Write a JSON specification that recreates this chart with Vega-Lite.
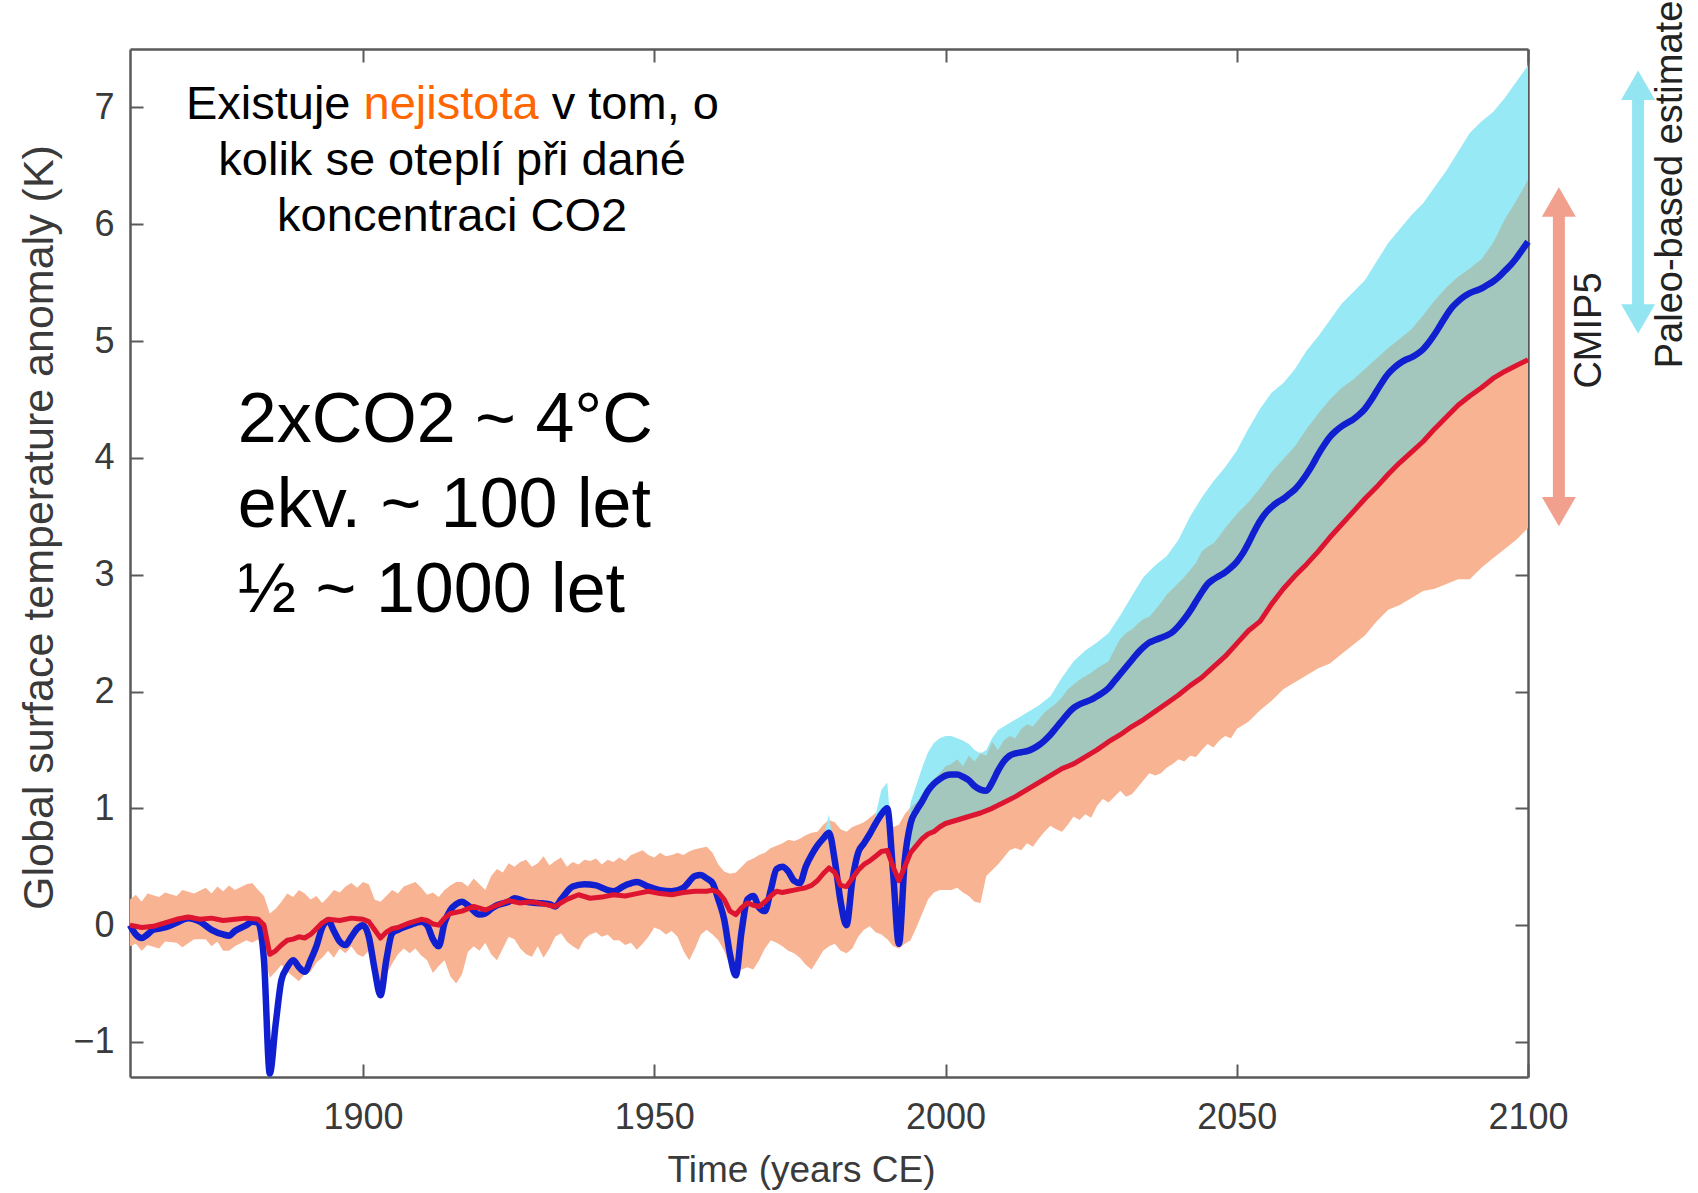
{
  "$schema": "https://vega.github.io/schema/vega-lite/v6.json",
  "width": 1398,
  "height": 1028,
  "autosize": {"type": "none"},
  "padding": {"left": 130, "top": 49, "right": 170, "bottom": 116},
  "background": "white",
  "config": {
    "view": {"stroke": null},
    "axis": {
      "grid": false,
      "domainColor": "#5a5a5a",
      "domainWidth": 2.5,
      "tickColor": "#5a5a5a",
      "tickWidth": 2,
      "tickSize": -13,
      "labelFont": "Liberation Sans",
      "labelFontSize": 36,
      "labelColor": "#3a3a3a",
      "labelFlush": false,
      "labelOverlap": false,
      "titleFont": "Liberation Sans",
      "titleFontWeight": "normal",
      "titleColor": "#3a3a3a"
    }
  },
  "datasets": {
    "cmip_band": [
      {"year": 1860, "lo": -0.18, "hi": 0.22}, {"year": 1861, "lo": -0.16, "hi": 0.26}, {"year": 1862, "lo": -0.22, "hi": 0.2},
      {"year": 1863, "lo": -0.17, "hi": 0.27}, {"year": 1865, "lo": -0.2, "hi": 0.24}, {"year": 1866, "lo": -0.14, "hi": 0.28},
      {"year": 1868, "lo": -0.15, "hi": 0.25}, {"year": 1869, "lo": -0.19, "hi": 0.3}, {"year": 1871, "lo": -0.12, "hi": 0.27},
      {"year": 1873, "lo": -0.12, "hi": 0.32}, {"year": 1874, "lo": -0.18, "hi": 0.27}, {"year": 1875, "lo": -0.14, "hi": 0.33},
      {"year": 1876, "lo": -0.22, "hi": 0.29}, {"year": 1877, "lo": -0.22, "hi": 0.34}, {"year": 1878, "lo": -0.18, "hi": 0.3},
      {"year": 1880, "lo": -0.13, "hi": 0.35}, {"year": 1881, "lo": -0.15, "hi": 0.36}, {"year": 1882, "lo": -0.12, "hi": 0.3},
      {"year": 1883, "lo": -0.25, "hi": 0.25}, {"year": 1884, "lo": -0.45, "hi": 0.1}, {"year": 1885, "lo": -0.4, "hi": 0.14},
      {"year": 1886, "lo": -0.34, "hi": 0.2}, {"year": 1887, "lo": -0.4, "hi": 0.27}, {"year": 1888, "lo": -0.44, "hi": 0.24},
      {"year": 1889, "lo": -0.48, "hi": 0.3}, {"year": 1890, "lo": -0.42, "hi": 0.27}, {"year": 1891, "lo": -0.4, "hi": 0.22},
      {"year": 1892, "lo": -0.32, "hi": 0.25}, {"year": 1893, "lo": -0.28, "hi": 0.19}, {"year": 1894, "lo": -0.22, "hi": 0.24},
      {"year": 1895, "lo": -0.28, "hi": 0.3}, {"year": 1896, "lo": -0.2, "hi": 0.28}, {"year": 1897, "lo": -0.24, "hi": 0.33},
      {"year": 1898, "lo": -0.18, "hi": 0.36}, {"year": 1899, "lo": -0.25, "hi": 0.32}, {"year": 1900, "lo": -0.27, "hi": 0.37},
      {"year": 1901, "lo": -0.22, "hi": 0.35}, {"year": 1902, "lo": -0.35, "hi": 0.22}, {"year": 1903, "lo": -0.55, "hi": 0.2},
      {"year": 1904, "lo": -0.42, "hi": 0.25}, {"year": 1905, "lo": -0.33, "hi": 0.3}, {"year": 1906, "lo": -0.25, "hi": 0.27},
      {"year": 1907, "lo": -0.2, "hi": 0.33}, {"year": 1908, "lo": -0.24, "hi": 0.35}, {"year": 1909, "lo": -0.2, "hi": 0.37},
      {"year": 1910, "lo": -0.26, "hi": 0.32}, {"year": 1911, "lo": -0.3, "hi": 0.26}, {"year": 1912, "lo": -0.41, "hi": 0.28},
      {"year": 1913, "lo": -0.35, "hi": 0.24}, {"year": 1914, "lo": -0.3, "hi": 0.3}, {"year": 1915, "lo": -0.44, "hi": 0.34},
      {"year": 1916, "lo": -0.5, "hi": 0.37}, {"year": 1917, "lo": -0.42, "hi": 0.37}, {"year": 1918, "lo": -0.23, "hi": 0.33},
      {"year": 1919, "lo": -0.18, "hi": 0.4}, {"year": 1920, "lo": -0.22, "hi": 0.35}, {"year": 1921, "lo": -0.15, "hi": 0.3},
      {"year": 1922, "lo": -0.25, "hi": 0.42}, {"year": 1923, "lo": -0.3, "hi": 0.48}, {"year": 1924, "lo": -0.2, "hi": 0.45},
      {"year": 1925, "lo": -0.1, "hi": 0.53}, {"year": 1926, "lo": -0.12, "hi": 0.5}, {"year": 1927, "lo": -0.2, "hi": 0.54},
      {"year": 1928, "lo": -0.25, "hi": 0.56}, {"year": 1929, "lo": -0.27, "hi": 0.5}, {"year": 1930, "lo": -0.18, "hi": 0.53},
      {"year": 1931, "lo": -0.28, "hi": 0.59}, {"year": 1932, "lo": -0.2, "hi": 0.51}, {"year": 1933, "lo": -0.1, "hi": 0.55},
      {"year": 1934, "lo": -0.07, "hi": 0.58}, {"year": 1935, "lo": -0.14, "hi": 0.5}, {"year": 1936, "lo": -0.18, "hi": 0.54},
      {"year": 1937, "lo": -0.21, "hi": 0.52}, {"year": 1938, "lo": -0.12, "hi": 0.56}, {"year": 1939, "lo": -0.08, "hi": 0.55},
      {"year": 1940, "lo": -0.06, "hi": 0.57}, {"year": 1941, "lo": -0.1, "hi": 0.52}, {"year": 1942, "lo": -0.08, "hi": 0.56},
      {"year": 1943, "lo": -0.13, "hi": 0.54}, {"year": 1944, "lo": -0.13, "hi": 0.58}, {"year": 1945, "lo": -0.17, "hi": 0.55},
      {"year": 1946, "lo": -0.15, "hi": 0.6}, {"year": 1947, "lo": -0.21, "hi": 0.62}, {"year": 1948, "lo": -0.16, "hi": 0.64},
      {"year": 1949, "lo": -0.1, "hi": 0.6}, {"year": 1950, "lo": -0.02, "hi": 0.58}, {"year": 1951, "lo": -0.04, "hi": 0.62},
      {"year": 1952, "lo": -0.08, "hi": 0.59}, {"year": 1953, "lo": -0.05, "hi": 0.6}, {"year": 1954, "lo": -0.1, "hi": 0.62},
      {"year": 1955, "lo": -0.22, "hi": 0.6}, {"year": 1956, "lo": -0.3, "hi": 0.63}, {"year": 1957, "lo": -0.2, "hi": 0.65},
      {"year": 1958, "lo": -0.08, "hi": 0.66}, {"year": 1959, "lo": -0.04, "hi": 0.67}, {"year": 1960, "lo": -0.08, "hi": 0.62},
      {"year": 1961, "lo": -0.13, "hi": 0.52}, {"year": 1962, "lo": -0.22, "hi": 0.46}, {"year": 1963, "lo": -0.35, "hi": 0.44},
      {"year": 1964, "lo": -0.41, "hi": 0.45}, {"year": 1965, "lo": -0.38, "hi": 0.5}, {"year": 1966, "lo": -0.36, "hi": 0.55},
      {"year": 1967, "lo": -0.38, "hi": 0.57}, {"year": 1968, "lo": -0.3, "hi": 0.6}, {"year": 1969, "lo": -0.2, "hi": 0.62},
      {"year": 1970, "lo": -0.13, "hi": 0.66}, {"year": 1971, "lo": -0.15, "hi": 0.68}, {"year": 1972, "lo": -0.18, "hi": 0.7},
      {"year": 1973, "lo": -0.22, "hi": 0.73}, {"year": 1974, "lo": -0.24, "hi": 0.72}, {"year": 1975, "lo": -0.28, "hi": 0.74},
      {"year": 1976, "lo": -0.34, "hi": 0.77}, {"year": 1977, "lo": -0.38, "hi": 0.79}, {"year": 1978, "lo": -0.3, "hi": 0.8},
      {"year": 1979, "lo": -0.22, "hi": 0.86}, {"year": 1980, "lo": -0.18, "hi": 0.9}, {"year": 1981, "lo": -0.16, "hi": 0.88},
      {"year": 1982, "lo": -0.22, "hi": 0.82}, {"year": 1983, "lo": -0.24, "hi": 0.8}, {"year": 1984, "lo": -0.2, "hi": 0.84},
      {"year": 1985, "lo": -0.1, "hi": 0.86}, {"year": 1986, "lo": -0.04, "hi": 0.88}, {"year": 1987, "lo": -0.01, "hi": 0.92},
      {"year": 1988, "lo": -0.06, "hi": 0.96}, {"year": 1989, "lo": -0.08, "hi": 1.01}, {"year": 1990, "lo": -0.12, "hi": 0.92},
      {"year": 1991, "lo": -0.18, "hi": 0.84}, {"year": 1992, "lo": -0.2, "hi": 0.86}, {"year": 1993, "lo": -0.16, "hi": 0.95},
      {"year": 1994, "lo": -0.13, "hi": 1.01}, {"year": 1995, "lo": -0.02, "hi": 1.05}, {"year": 1996, "lo": 0.1, "hi": 1.12},
      {"year": 1997, "lo": 0.22, "hi": 1.2}, {"year": 1998, "lo": 0.28, "hi": 1.25}, {"year": 1999, "lo": 0.3, "hi": 1.3},
      {"year": 2000, "lo": 0.3, "hi": 1.36}, {"year": 2001, "lo": 0.3, "hi": 1.38}, {"year": 2002, "lo": 0.32, "hi": 1.42},
      {"year": 2003, "lo": 0.28, "hi": 1.36}, {"year": 2004, "lo": 0.25, "hi": 1.45}, {"year": 2005, "lo": 0.2, "hi": 1.4},
      {"year": 2006, "lo": 0.19, "hi": 1.48}, {"year": 2007, "lo": 0.42, "hi": 1.45}, {"year": 2008, "lo": 0.47, "hi": 1.57},
      {"year": 2009, "lo": 0.52, "hi": 1.5}, {"year": 2010, "lo": 0.58, "hi": 1.58}, {"year": 2011, "lo": 0.64, "hi": 1.62},
      {"year": 2012, "lo": 0.66, "hi": 1.6}, {"year": 2013, "lo": 0.64, "hi": 1.68}, {"year": 2014, "lo": 0.7, "hi": 1.72},
      {"year": 2015, "lo": 0.67, "hi": 1.7}, {"year": 2016, "lo": 0.74, "hi": 1.76}, {"year": 2017, "lo": 0.8, "hi": 1.82},
      {"year": 2018, "lo": 0.85, "hi": 1.86}, {"year": 2019, "lo": 0.82, "hi": 1.9}, {"year": 2020, "lo": 0.8, "hi": 1.95},
      {"year": 2021, "lo": 0.86, "hi": 2.02}, {"year": 2022, "lo": 0.93, "hi": 2.06}, {"year": 2023, "lo": 0.9, "hi": 2.1},
      {"year": 2024, "lo": 0.95, "hi": 2.13}, {"year": 2025, "lo": 0.92, "hi": 2.16}, {"year": 2026, "lo": 1.02, "hi": 2.2},
      {"year": 2027, "lo": 1.08, "hi": 2.23}, {"year": 2028, "lo": 1.05, "hi": 2.26}, {"year": 2029, "lo": 1.1, "hi": 2.36},
      {"year": 2030, "lo": 1.15, "hi": 2.45}, {"year": 2031, "lo": 1.1, "hi": 2.5}, {"year": 2032, "lo": 1.12, "hi": 2.53},
      {"year": 2033, "lo": 1.18, "hi": 2.58}, {"year": 2034, "lo": 1.24, "hi": 2.62}, {"year": 2035, "lo": 1.3, "hi": 2.64},
      {"year": 2036, "lo": 1.28, "hi": 2.7}, {"year": 2037, "lo": 1.3, "hi": 2.76}, {"year": 2038, "lo": 1.35, "hi": 2.83},
      {"year": 2039, "lo": 1.38, "hi": 2.88}, {"year": 2040, "lo": 1.42, "hi": 2.93}, {"year": 2041, "lo": 1.4, "hi": 2.98},
      {"year": 2042, "lo": 1.45, "hi": 3.04}, {"year": 2043, "lo": 1.44, "hi": 3.1}, {"year": 2044, "lo": 1.5, "hi": 3.2},
      {"year": 2045, "lo": 1.55, "hi": 3.24}, {"year": 2046, "lo": 1.52, "hi": 3.27}, {"year": 2047, "lo": 1.58, "hi": 3.33},
      {"year": 2048, "lo": 1.62, "hi": 3.4}, {"year": 2049, "lo": 1.6, "hi": 3.46}, {"year": 2050, "lo": 1.68, "hi": 3.52},
      {"year": 2052, "lo": 1.74, "hi": 3.62}, {"year": 2054, "lo": 1.84, "hi": 3.74}, {"year": 2056, "lo": 1.92, "hi": 3.88},
      {"year": 2058, "lo": 2.02, "hi": 3.99}, {"year": 2060, "lo": 2.08, "hi": 4.1}, {"year": 2062, "lo": 2.14, "hi": 4.25},
      {"year": 2064, "lo": 2.2, "hi": 4.38}, {"year": 2066, "lo": 2.24, "hi": 4.5}, {"year": 2068, "lo": 2.32, "hi": 4.6},
      {"year": 2070, "lo": 2.4, "hi": 4.67}, {"year": 2072, "lo": 2.48, "hi": 4.76}, {"year": 2074, "lo": 2.6, "hi": 4.85},
      {"year": 2076, "lo": 2.7, "hi": 4.94}, {"year": 2078, "lo": 2.74, "hi": 5.02}, {"year": 2080, "lo": 2.8, "hi": 5.1},
      {"year": 2082, "lo": 2.86, "hi": 5.22}, {"year": 2084, "lo": 2.88, "hi": 5.35}, {"year": 2086, "lo": 2.92, "hi": 5.46},
      {"year": 2088, "lo": 2.96, "hi": 5.55}, {"year": 2090, "lo": 2.96, "hi": 5.62}, {"year": 2092, "lo": 3.06, "hi": 5.7},
      {"year": 2094, "lo": 3.14, "hi": 5.84}, {"year": 2096, "lo": 3.22, "hi": 6.04}, {"year": 2098, "lo": 3.3, "hi": 6.2},
      {"year": 2100, "lo": 3.4, "hi": 6.38}
    ],
    "paleo_band": [
      {"seg": "a", "year": 1979, "lo": 0.7, "hi": 0.74}, {"seg": "a", "year": 1980, "lo": 0.76, "hi": 0.95}, {"seg": "a", "year": 1981, "lo": 0.55, "hi": 0.58},
      {"seg": "b", "year": 1987.5, "lo": 0.8, "hi": 0.84}, {"seg": "b", "year": 1989, "lo": 0.93, "hi": 1.16}, {"seg": "b", "year": 1990, "lo": 0.98, "hi": 1.22}, {"seg": "b", "year": 1990.6, "lo": 0.8, "hi": 0.86},
      {"seg": "c", "year": 1993, "lo": 0.5, "hi": 0.62}, {"seg": "c", "year": 1994, "lo": 0.62, "hi": 1.05}, {"seg": "c", "year": 1995, "lo": 0.68, "hi": 1.2},
      {"seg": "c", "year": 1996, "lo": 0.74, "hi": 1.35}, {"seg": "c", "year": 1997, "lo": 0.78, "hi": 1.48}, {"seg": "c", "year": 1998, "lo": 0.8, "hi": 1.56},
      {"seg": "c", "year": 1999, "lo": 0.84, "hi": 1.6}, {"seg": "c", "year": 2000, "lo": 0.87, "hi": 1.62}, {"seg": "c", "year": 2001, "lo": 0.885, "hi": 1.62},
      {"seg": "c", "year": 2002, "lo": 0.9, "hi": 1.6}, {"seg": "c", "year": 2003, "lo": 0.915, "hi": 1.58}, {"seg": "c", "year": 2004, "lo": 0.93, "hi": 1.55},
      {"seg": "c", "year": 2005, "lo": 0.945, "hi": 1.5}, {"seg": "c", "year": 2006, "lo": 0.96, "hi": 1.47}, {"seg": "c", "year": 2007, "lo": 0.98, "hi": 1.5},
      {"seg": "c", "year": 2008, "lo": 1.0, "hi": 1.6}, {"seg": "c", "year": 2009, "lo": 1.025, "hi": 1.67}, {"seg": "c", "year": 2010, "lo": 1.05, "hi": 1.7},
      {"seg": "c", "year": 2012, "lo": 1.1, "hi": 1.76}, {"seg": "c", "year": 2014, "lo": 1.16, "hi": 1.82}, {"seg": "c", "year": 2016, "lo": 1.22, "hi": 1.88},
      {"seg": "c", "year": 2018, "lo": 1.28, "hi": 1.96}, {"seg": "c", "year": 2020, "lo": 1.34, "hi": 2.12}, {"seg": "c", "year": 2022, "lo": 1.38, "hi": 2.26},
      {"seg": "c", "year": 2024, "lo": 1.44, "hi": 2.35}, {"seg": "c", "year": 2026, "lo": 1.5, "hi": 2.42}, {"seg": "c", "year": 2028, "lo": 1.57, "hi": 2.5},
      {"seg": "c", "year": 2030, "lo": 1.63, "hi": 2.65}, {"seg": "c", "year": 2032, "lo": 1.7, "hi": 2.82}, {"seg": "c", "year": 2034, "lo": 1.76, "hi": 2.98},
      {"seg": "c", "year": 2036, "lo": 1.83, "hi": 3.08}, {"seg": "c", "year": 2038, "lo": 1.9, "hi": 3.16}, {"seg": "c", "year": 2040, "lo": 1.97, "hi": 3.3},
      {"seg": "c", "year": 2042, "lo": 2.05, "hi": 3.5}, {"seg": "c", "year": 2044, "lo": 2.12, "hi": 3.66}, {"seg": "c", "year": 2046, "lo": 2.21, "hi": 3.8},
      {"seg": "c", "year": 2048, "lo": 2.3, "hi": 3.92}, {"seg": "c", "year": 2050, "lo": 2.41, "hi": 4.06}, {"seg": "c", "year": 2052, "lo": 2.52, "hi": 4.25},
      {"seg": "c", "year": 2054, "lo": 2.6, "hi": 4.42}, {"seg": "c", "year": 2056, "lo": 2.75, "hi": 4.56}, {"seg": "c", "year": 2058, "lo": 2.88, "hi": 4.64},
      {"seg": "c", "year": 2060, "lo": 2.99, "hi": 4.76}, {"seg": "c", "year": 2062, "lo": 3.09, "hi": 4.92}, {"seg": "c", "year": 2064, "lo": 3.2, "hi": 5.04},
      {"seg": "c", "year": 2066, "lo": 3.32, "hi": 5.18}, {"seg": "c", "year": 2068, "lo": 3.43, "hi": 5.32}, {"seg": "c", "year": 2070, "lo": 3.54, "hi": 5.42},
      {"seg": "c", "year": 2072, "lo": 3.65, "hi": 5.52}, {"seg": "c", "year": 2074, "lo": 3.75, "hi": 5.68}, {"seg": "c", "year": 2076, "lo": 3.86, "hi": 5.84},
      {"seg": "c", "year": 2078, "lo": 3.96, "hi": 5.96}, {"seg": "c", "year": 2080, "lo": 4.05, "hi": 6.08}, {"seg": "c", "year": 2082, "lo": 4.14, "hi": 6.18},
      {"seg": "c", "year": 2084, "lo": 4.25, "hi": 6.32}, {"seg": "c", "year": 2086, "lo": 4.35, "hi": 6.46}, {"seg": "c", "year": 2088, "lo": 4.45, "hi": 6.62},
      {"seg": "c", "year": 2090, "lo": 4.53, "hi": 6.78}, {"seg": "c", "year": 2092, "lo": 4.6, "hi": 6.88}, {"seg": "c", "year": 2094, "lo": 4.68, "hi": 6.96},
      {"seg": "c", "year": 2096, "lo": 4.74, "hi": 7.08}, {"seg": "c", "year": 2098, "lo": 4.79, "hi": 7.22}, {"seg": "c", "year": 2100, "lo": 4.84, "hi": 7.36}
    ],
    "overlap_band": [
      {"year": 1994, "lo": 0.62, "hi": 1.01}, {"year": 1995, "lo": 0.68, "hi": 1.05}, {"year": 1996, "lo": 0.74, "hi": 1.12},
      {"year": 1997, "lo": 0.78, "hi": 1.2}, {"year": 1998, "lo": 0.8, "hi": 1.25}, {"year": 1999, "lo": 0.84, "hi": 1.3},
      {"year": 2000, "lo": 0.87, "hi": 1.36}, {"year": 2001, "lo": 0.885, "hi": 1.38}, {"year": 2002, "lo": 0.9, "hi": 1.42},
      {"year": 2003, "lo": 0.915, "hi": 1.36}, {"year": 2004, "lo": 0.93, "hi": 1.45}, {"year": 2005, "lo": 0.945, "hi": 1.4},
      {"year": 2006, "lo": 0.96, "hi": 1.47}, {"year": 2007, "lo": 0.98, "hi": 1.45}, {"year": 2008, "lo": 1.0, "hi": 1.57},
      {"year": 2009, "lo": 1.025, "hi": 1.5}, {"year": 2010, "lo": 1.05, "hi": 1.58}, {"year": 2011, "lo": 1.075, "hi": 1.62},
      {"year": 2012, "lo": 1.1, "hi": 1.6}, {"year": 2013, "lo": 1.13, "hi": 1.68}, {"year": 2014, "lo": 1.16, "hi": 1.72},
      {"year": 2015, "lo": 1.19, "hi": 1.7}, {"year": 2016, "lo": 1.22, "hi": 1.76}, {"year": 2017, "lo": 1.25, "hi": 1.82},
      {"year": 2018, "lo": 1.28, "hi": 1.86}, {"year": 2019, "lo": 1.31, "hi": 1.9}, {"year": 2020, "lo": 1.34, "hi": 1.95},
      {"year": 2021, "lo": 1.36, "hi": 2.02}, {"year": 2022, "lo": 1.38, "hi": 2.06}, {"year": 2023, "lo": 1.41, "hi": 2.1},
      {"year": 2024, "lo": 1.44, "hi": 2.13}, {"year": 2025, "lo": 1.47, "hi": 2.16}, {"year": 2026, "lo": 1.5, "hi": 2.2},
      {"year": 2027, "lo": 1.535, "hi": 2.23}, {"year": 2028, "lo": 1.57, "hi": 2.26}, {"year": 2029, "lo": 1.6, "hi": 2.36},
      {"year": 2030, "lo": 1.63, "hi": 2.45}, {"year": 2031, "lo": 1.665, "hi": 2.5}, {"year": 2032, "lo": 1.7, "hi": 2.53},
      {"year": 2033, "lo": 1.73, "hi": 2.58}, {"year": 2034, "lo": 1.76, "hi": 2.62}, {"year": 2035, "lo": 1.795, "hi": 2.64},
      {"year": 2036, "lo": 1.83, "hi": 2.7}, {"year": 2037, "lo": 1.865, "hi": 2.76}, {"year": 2038, "lo": 1.9, "hi": 2.83},
      {"year": 2039, "lo": 1.935, "hi": 2.88}, {"year": 2040, "lo": 1.97, "hi": 2.93}, {"year": 2041, "lo": 2.01, "hi": 2.98},
      {"year": 2042, "lo": 2.05, "hi": 3.04}, {"year": 2043, "lo": 2.085, "hi": 3.1}, {"year": 2044, "lo": 2.12, "hi": 3.2},
      {"year": 2045, "lo": 2.165, "hi": 3.24}, {"year": 2046, "lo": 2.21, "hi": 3.27}, {"year": 2047, "lo": 2.255, "hi": 3.33},
      {"year": 2048, "lo": 2.3, "hi": 3.4}, {"year": 2049, "lo": 2.355, "hi": 3.46}, {"year": 2050, "lo": 2.41, "hi": 3.52},
      {"year": 2052, "lo": 2.52, "hi": 3.62}, {"year": 2054, "lo": 2.6, "hi": 3.74}, {"year": 2056, "lo": 2.75, "hi": 3.88},
      {"year": 2058, "lo": 2.88, "hi": 3.99}, {"year": 2060, "lo": 2.99, "hi": 4.1}, {"year": 2062, "lo": 3.09, "hi": 4.25},
      {"year": 2064, "lo": 3.2, "hi": 4.38}, {"year": 2066, "lo": 3.32, "hi": 4.5}, {"year": 2068, "lo": 3.43, "hi": 4.6},
      {"year": 2070, "lo": 3.54, "hi": 4.67}, {"year": 2072, "lo": 3.65, "hi": 4.76}, {"year": 2074, "lo": 3.75, "hi": 4.85},
      {"year": 2076, "lo": 3.86, "hi": 4.94}, {"year": 2078, "lo": 3.96, "hi": 5.02}, {"year": 2080, "lo": 4.05, "hi": 5.1},
      {"year": 2082, "lo": 4.14, "hi": 5.22}, {"year": 2084, "lo": 4.25, "hi": 5.35}, {"year": 2086, "lo": 4.35, "hi": 5.46},
      {"year": 2088, "lo": 4.45, "hi": 5.55}, {"year": 2090, "lo": 4.53, "hi": 5.62}, {"year": 2092, "lo": 4.6, "hi": 5.7},
      {"year": 2094, "lo": 4.68, "hi": 5.84}, {"year": 2096, "lo": 4.74, "hi": 6.04}, {"year": 2098, "lo": 4.79, "hi": 6.2},
      {"year": 2100, "lo": 4.84, "hi": 6.38}
    ],
    "cmip_mean": [
      {"year": 1860, "t": 0.0}, {"year": 1862, "t": -0.02}, {"year": 1864, "t": -0.01}, {"year": 1866, "t": 0.02},
      {"year": 1868, "t": 0.05}, {"year": 1870, "t": 0.07}, {"year": 1872, "t": 0.05}, {"year": 1874, "t": 0.06},
      {"year": 1876, "t": 0.04}, {"year": 1878, "t": 0.05}, {"year": 1880, "t": 0.06}, {"year": 1882, "t": 0.05},
      {"year": 1883, "t": 0.0}, {"year": 1884, "t": -0.25}, {"year": 1885, "t": -0.22}, {"year": 1886, "t": -0.17},
      {"year": 1887, "t": -0.13}, {"year": 1888, "t": -0.12}, {"year": 1889, "t": -0.1}, {"year": 1890, "t": -0.11},
      {"year": 1891, "t": -0.08}, {"year": 1892, "t": -0.03}, {"year": 1893, "t": 0.02}, {"year": 1894, "t": 0.05},
      {"year": 1896, "t": 0.04}, {"year": 1898, "t": 0.06}, {"year": 1900, "t": 0.05}, {"year": 1901, "t": 0.03},
      {"year": 1902, "t": -0.04}, {"year": 1903, "t": -0.11}, {"year": 1904, "t": -0.06}, {"year": 1905, "t": -0.03},
      {"year": 1906, "t": -0.02}, {"year": 1908, "t": 0.02}, {"year": 1910, "t": 0.05}, {"year": 1911, "t": 0.04},
      {"year": 1912, "t": 0.01}, {"year": 1913, "t": 0.0}, {"year": 1914, "t": 0.06}, {"year": 1915, "t": 0.1},
      {"year": 1917, "t": 0.12}, {"year": 1919, "t": 0.16}, {"year": 1921, "t": 0.13}, {"year": 1923, "t": 0.17},
      {"year": 1925, "t": 0.21}, {"year": 1927, "t": 0.19}, {"year": 1929, "t": 0.2}, {"year": 1931, "t": 0.18},
      {"year": 1933, "t": 0.16}, {"year": 1935, "t": 0.22}, {"year": 1937, "t": 0.26}, {"year": 1939, "t": 0.23},
      {"year": 1941, "t": 0.24}, {"year": 1943, "t": 0.26}, {"year": 1945, "t": 0.25}, {"year": 1947, "t": 0.27},
      {"year": 1949, "t": 0.29}, {"year": 1951, "t": 0.27}, {"year": 1953, "t": 0.26}, {"year": 1955, "t": 0.28},
      {"year": 1957, "t": 0.29}, {"year": 1959, "t": 0.29}, {"year": 1960, "t": 0.3}, {"year": 1961, "t": 0.28},
      {"year": 1962, "t": 0.22}, {"year": 1963, "t": 0.12}, {"year": 1964, "t": 0.09}, {"year": 1965, "t": 0.15},
      {"year": 1966, "t": 0.19}, {"year": 1967, "t": 0.17}, {"year": 1968, "t": 0.16}, {"year": 1969, "t": 0.2},
      {"year": 1970, "t": 0.25}, {"year": 1971, "t": 0.29}, {"year": 1972, "t": 0.28}, {"year": 1973, "t": 0.29},
      {"year": 1974, "t": 0.3}, {"year": 1975, "t": 0.31}, {"year": 1976, "t": 0.32}, {"year": 1977, "t": 0.34},
      {"year": 1978, "t": 0.38}, {"year": 1979, "t": 0.44}, {"year": 1980, "t": 0.49}, {"year": 1981, "t": 0.45},
      {"year": 1982, "t": 0.34}, {"year": 1983, "t": 0.33}, {"year": 1984, "t": 0.4}, {"year": 1985, "t": 0.47},
      {"year": 1986, "t": 0.52}, {"year": 1987, "t": 0.55}, {"year": 1988, "t": 0.59}, {"year": 1989, "t": 0.63},
      {"year": 1990, "t": 0.64}, {"year": 1991, "t": 0.5}, {"year": 1992, "t": 0.38}, {"year": 1993, "t": 0.5},
      {"year": 1994, "t": 0.62}, {"year": 1995, "t": 0.68}, {"year": 1996, "t": 0.74}, {"year": 1997, "t": 0.78},
      {"year": 1998, "t": 0.8}, {"year": 1999, "t": 0.84}, {"year": 2000, "t": 0.87}, {"year": 2002, "t": 0.9},
      {"year": 2004, "t": 0.93}, {"year": 2006, "t": 0.96}, {"year": 2008, "t": 1.0}, {"year": 2010, "t": 1.05},
      {"year": 2012, "t": 1.1}, {"year": 2014, "t": 1.16}, {"year": 2016, "t": 1.22}, {"year": 2018, "t": 1.28},
      {"year": 2020, "t": 1.34}, {"year": 2022, "t": 1.38}, {"year": 2024, "t": 1.44}, {"year": 2026, "t": 1.5},
      {"year": 2028, "t": 1.57}, {"year": 2030, "t": 1.63}, {"year": 2032, "t": 1.7}, {"year": 2034, "t": 1.76},
      {"year": 2036, "t": 1.83}, {"year": 2038, "t": 1.9}, {"year": 2040, "t": 1.97}, {"year": 2042, "t": 2.05},
      {"year": 2044, "t": 2.12}, {"year": 2046, "t": 2.21}, {"year": 2048, "t": 2.3}, {"year": 2050, "t": 2.41},
      {"year": 2052, "t": 2.52}, {"year": 2054, "t": 2.6}, {"year": 2056, "t": 2.75}, {"year": 2058, "t": 2.88},
      {"year": 2060, "t": 2.99}, {"year": 2062, "t": 3.09}, {"year": 2064, "t": 3.2}, {"year": 2066, "t": 3.32},
      {"year": 2068, "t": 3.43}, {"year": 2070, "t": 3.54}, {"year": 2072, "t": 3.65}, {"year": 2074, "t": 3.75},
      {"year": 2076, "t": 3.86}, {"year": 2078, "t": 3.96}, {"year": 2080, "t": 4.05}, {"year": 2082, "t": 4.14},
      {"year": 2084, "t": 4.25}, {"year": 2086, "t": 4.35}, {"year": 2088, "t": 4.45}, {"year": 2090, "t": 4.53},
      {"year": 2092, "t": 4.6}, {"year": 2094, "t": 4.68}, {"year": 2096, "t": 4.74}, {"year": 2098, "t": 4.79},
      {"year": 2100, "t": 4.84}
    ],
    "paleo_mean": [
      {"year": 1860, "t": 0.0}, {"year": 1861, "t": -0.08}, {"year": 1862, "t": -0.11}, {"year": 1863, "t": -0.08},
      {"year": 1864, "t": -0.04}, {"year": 1866, "t": -0.02}, {"year": 1868, "t": 0.02}, {"year": 1870, "t": 0.06},
      {"year": 1872, "t": 0.03}, {"year": 1874, "t": -0.04}, {"year": 1876, "t": -0.08}, {"year": 1877, "t": -0.09},
      {"year": 1878, "t": -0.05}, {"year": 1880, "t": 0.0}, {"year": 1881, "t": 0.03}, {"year": 1882, "t": 0.02},
      {"year": 1883, "t": -0.3}, {"year": 1884, "t": -1.27}, {"year": 1885, "t": -0.85}, {"year": 1886, "t": -0.47},
      {"year": 1887, "t": -0.36}, {"year": 1888, "t": -0.3}, {"year": 1889, "t": -0.36}, {"year": 1890, "t": -0.4},
      {"year": 1891, "t": -0.3}, {"year": 1892, "t": -0.18}, {"year": 1893, "t": -0.02}, {"year": 1894, "t": 0.04},
      {"year": 1895, "t": -0.05}, {"year": 1896, "t": -0.14}, {"year": 1897, "t": -0.17}, {"year": 1898, "t": -0.1},
      {"year": 1899, "t": -0.03}, {"year": 1900, "t": 0.0}, {"year": 1901, "t": -0.1}, {"year": 1902, "t": -0.38},
      {"year": 1903, "t": -0.6}, {"year": 1904, "t": -0.3}, {"year": 1905, "t": -0.07}, {"year": 1906, "t": -0.04},
      {"year": 1908, "t": 0.0}, {"year": 1910, "t": 0.03}, {"year": 1911, "t": 0.0}, {"year": 1912, "t": -0.12},
      {"year": 1913, "t": -0.18}, {"year": 1914, "t": 0.02}, {"year": 1915, "t": 0.13}, {"year": 1916, "t": 0.18},
      {"year": 1917, "t": 0.2}, {"year": 1918, "t": 0.17}, {"year": 1920, "t": 0.09}, {"year": 1921, "t": 0.1},
      {"year": 1922, "t": 0.14}, {"year": 1923, "t": 0.17}, {"year": 1925, "t": 0.2}, {"year": 1926, "t": 0.23},
      {"year": 1928, "t": 0.2}, {"year": 1930, "t": 0.19}, {"year": 1932, "t": 0.18}, {"year": 1933, "t": 0.16},
      {"year": 1934, "t": 0.22}, {"year": 1936, "t": 0.33}, {"year": 1938, "t": 0.35}, {"year": 1940, "t": 0.34},
      {"year": 1942, "t": 0.3}, {"year": 1943, "t": 0.29}, {"year": 1945, "t": 0.34}, {"year": 1947, "t": 0.37},
      {"year": 1949, "t": 0.33}, {"year": 1951, "t": 0.3}, {"year": 1953, "t": 0.29}, {"year": 1955, "t": 0.32},
      {"year": 1957, "t": 0.42}, {"year": 1958, "t": 0.43}, {"year": 1959, "t": 0.4}, {"year": 1960, "t": 0.36},
      {"year": 1961, "t": 0.22}, {"year": 1962, "t": 0.05}, {"year": 1963, "t": -0.25}, {"year": 1964, "t": -0.43},
      {"year": 1965, "t": -0.05}, {"year": 1966, "t": 0.22}, {"year": 1967, "t": 0.25}, {"year": 1968, "t": 0.15},
      {"year": 1969, "t": 0.12}, {"year": 1970, "t": 0.3}, {"year": 1971, "t": 0.48}, {"year": 1972, "t": 0.5},
      {"year": 1973, "t": 0.46}, {"year": 1974, "t": 0.38}, {"year": 1975, "t": 0.36}, {"year": 1976, "t": 0.5},
      {"year": 1977, "t": 0.6}, {"year": 1978, "t": 0.68}, {"year": 1979, "t": 0.74}, {"year": 1980, "t": 0.79},
      {"year": 1981, "t": 0.55}, {"year": 1982, "t": 0.2}, {"year": 1983, "t": 0.0}, {"year": 1984, "t": 0.38},
      {"year": 1985, "t": 0.62}, {"year": 1986, "t": 0.7}, {"year": 1987, "t": 0.78}, {"year": 1988, "t": 0.87},
      {"year": 1989, "t": 0.95}, {"year": 1990, "t": 1.0}, {"year": 1991, "t": 0.45}, {"year": 1992, "t": -0.16},
      {"year": 1993, "t": 0.55}, {"year": 1994, "t": 0.87}, {"year": 1995, "t": 0.98}, {"year": 1996, "t": 1.06},
      {"year": 1997, "t": 1.15}, {"year": 1998, "t": 1.21}, {"year": 1999, "t": 1.25}, {"year": 2000, "t": 1.28},
      {"year": 2001, "t": 1.29}, {"year": 2002, "t": 1.29}, {"year": 2003, "t": 1.27}, {"year": 2004, "t": 1.24},
      {"year": 2005, "t": 1.19}, {"year": 2006, "t": 1.16}, {"year": 2007, "t": 1.15}, {"year": 2008, "t": 1.22},
      {"year": 2009, "t": 1.32}, {"year": 2010, "t": 1.4}, {"year": 2011, "t": 1.45}, {"year": 2012, "t": 1.47},
      {"year": 2013, "t": 1.48}, {"year": 2014, "t": 1.49}, {"year": 2015, "t": 1.51}, {"year": 2016, "t": 1.54},
      {"year": 2017, "t": 1.58}, {"year": 2018, "t": 1.63}, {"year": 2019, "t": 1.69}, {"year": 2020, "t": 1.75},
      {"year": 2021, "t": 1.81}, {"year": 2022, "t": 1.86}, {"year": 2023, "t": 1.89}, {"year": 2024, "t": 1.91},
      {"year": 2025, "t": 1.93}, {"year": 2026, "t": 1.96}, {"year": 2027, "t": 1.99}, {"year": 2028, "t": 2.03},
      {"year": 2029, "t": 2.09}, {"year": 2030, "t": 2.15}, {"year": 2031, "t": 2.21}, {"year": 2032, "t": 2.27},
      {"year": 2033, "t": 2.33}, {"year": 2034, "t": 2.38}, {"year": 2035, "t": 2.42}, {"year": 2036, "t": 2.44},
      {"year": 2037, "t": 2.46}, {"year": 2038, "t": 2.48}, {"year": 2039, "t": 2.51}, {"year": 2040, "t": 2.56},
      {"year": 2041, "t": 2.62}, {"year": 2042, "t": 2.69}, {"year": 2043, "t": 2.77}, {"year": 2044, "t": 2.85},
      {"year": 2045, "t": 2.92}, {"year": 2046, "t": 2.96}, {"year": 2047, "t": 2.99}, {"year": 2048, "t": 3.02},
      {"year": 2049, "t": 3.06}, {"year": 2050, "t": 3.11}, {"year": 2051, "t": 3.18}, {"year": 2052, "t": 3.27},
      {"year": 2053, "t": 3.37}, {"year": 2054, "t": 3.46}, {"year": 2055, "t": 3.53}, {"year": 2056, "t": 3.58},
      {"year": 2057, "t": 3.62}, {"year": 2058, "t": 3.65}, {"year": 2059, "t": 3.69}, {"year": 2060, "t": 3.73},
      {"year": 2061, "t": 3.79}, {"year": 2062, "t": 3.86}, {"year": 2063, "t": 3.94}, {"year": 2064, "t": 4.03},
      {"year": 2065, "t": 4.11}, {"year": 2066, "t": 4.18}, {"year": 2067, "t": 4.23}, {"year": 2068, "t": 4.27},
      {"year": 2069, "t": 4.3}, {"year": 2070, "t": 4.33}, {"year": 2071, "t": 4.37}, {"year": 2072, "t": 4.42},
      {"year": 2073, "t": 4.49}, {"year": 2074, "t": 4.57}, {"year": 2075, "t": 4.65}, {"year": 2076, "t": 4.72},
      {"year": 2077, "t": 4.77}, {"year": 2078, "t": 4.81}, {"year": 2079, "t": 4.84}, {"year": 2080, "t": 4.86},
      {"year": 2081, "t": 4.89}, {"year": 2082, "t": 4.93}, {"year": 2083, "t": 4.99}, {"year": 2084, "t": 5.06},
      {"year": 2085, "t": 5.14}, {"year": 2086, "t": 5.22}, {"year": 2087, "t": 5.29}, {"year": 2088, "t": 5.34},
      {"year": 2089, "t": 5.38}, {"year": 2090, "t": 5.41}, {"year": 2091, "t": 5.43}, {"year": 2092, "t": 5.45},
      {"year": 2093, "t": 5.48}, {"year": 2094, "t": 5.51}, {"year": 2095, "t": 5.55}, {"year": 2096, "t": 5.6},
      {"year": 2097, "t": 5.65}, {"year": 2098, "t": 5.71}, {"year": 2099, "t": 5.78}, {"year": 2100, "t": 5.85}
    ],
    "ranges": [
      {"set": "CMIP5", "year": 2105.3, "top": 6.19, "bottom": 3.54},
      {"set": "Paleo", "year": 2118.9, "top": 7.19, "bottom": 5.19}
    ],
    "heading_plain": [
      {"label": "Existuje", "year": 1869.6, "t": 6.9},
      {"label": "v tom, o", "year": 1932.4, "t": 6.9}
    ],
    "heading_accent": [
      {"label": "nejistota", "year": 1900.1, "t": 6.9}
    ],
    "heading_centered": [
      {"label": "kolik se oteplí při dané", "year": 1915.3, "t": 6.42},
      {"label": "koncentraci CO2", "year": 1915.3, "t": 5.94}
    ],
    "big_notes": [
      {"label": "2xCO2 ~ 4°C", "year": 1878.5, "t": 4.136},
      {"label": "ekv. ~ 100 let", "year": 1878.5, "t": 3.408},
      {"label": "½ ~ 1000 let", "year": 1878.5, "t": 2.681}
    ],
    "side_labels": [
      {"label": "CMIP5", "year": 2110.6, "t": 5.09},
      {"label": "Paleo-based estimate", "year": 2124.5, "t": 6.34}
    ]
  },
  "layer": [
    {
      "data": {"name": "cmip_band"},
      "mark": {"type": "area", "color": "#F8B393", "opacity": 1},
      "encoding": {
        "x": {
          "field": "year", "type": "quantitative",
          "scale": {"domain": [1860, 2100], "nice": false, "zero": false},
          "axis": {
            "orient": "bottom", "values": [1900, 1950, 2000, 2050, 2100], "format": "d",
            "labelPadding": 36,
            "title": "Time (years CE)", "titleFontSize": 37,
            "titleX": 671, "titleY": 104, "titleAlign": "center", "titleBaseline": "alphabetic"
          }
        },
        "y": {
          "field": "lo", "type": "quantitative",
          "scale": {"domain": [-1.3, 7.5], "nice": false, "zero": false},
          "axis": {
            "orient": "left", "values": [-1, 0, 1, 2, 3, 4, 5, 6, 7], "format": "d",
            "labelPadding": 29,
            "title": "Global surface temperature anomaly (K)", "titleFontSize": 43,
            "titleAngle": 270, "titleX": -78, "titleY": 478, "titleAlign": "center", "titleBaseline": "alphabetic"
          }
        },
        "y2": {"field": "hi"}
      }
    },
    {
      "data": {"name": "paleo_band"},
      "mark": {"type": "area", "color": "#98E9F6", "opacity": 1},
      "encoding": {
        "x": {
          "field": "year", "type": "quantitative",
          "axis": {"orient": "top", "values": [1900, 1950, 2000, 2050, 2100], "labels": false, "title": null}
        },
        "y": {
          "field": "lo", "type": "quantitative",
          "axis": {"orient": "right", "values": [-1, 0, 1, 2, 3, 4, 5, 6, 7], "labels": false, "title": null}
        },
        "y2": {"field": "hi"},
        "detail": {"field": "seg"}
      }
    },
    {
      "data": {"name": "overlap_band"},
      "mark": {"type": "area", "color": "#A4C7BD", "opacity": 1},
      "encoding": {
        "x": {"field": "year", "type": "quantitative", "axis": null},
        "y": {"field": "lo", "type": "quantitative", "axis": null},
        "y2": {"field": "hi"}
      }
    },
    {
      "data": {"name": "paleo_mean"},
      "mark": {"type": "line", "color": "#1020D0", "strokeWidth": 6.5, "interpolate": "monotone", "strokeJoin": "round"},
      "encoding": {
        "x": {"field": "year", "type": "quantitative", "axis": null},
        "y": {"field": "t", "type": "quantitative", "axis": null}
      }
    },
    {
      "data": {"name": "cmip_mean"},
      "mark": {"type": "line", "color": "#DD1530", "strokeWidth": 5, "strokeJoin": "round"},
      "encoding": {
        "x": {"field": "year", "type": "quantitative", "axis": null},
        "y": {"field": "t", "type": "quantitative", "axis": null}
      }
    },
    {
      "data": {"name": "ranges"},
      "mark": {"type": "rule", "strokeWidth": 12},
      "encoding": {
        "x": {"field": "year", "type": "quantitative", "axis": null},
        "y": {"field": "top", "type": "quantitative", "axis": null},
        "y2": {"field": "bottom"},
        "color": {"field": "set", "type": "nominal", "scale": {"domain": ["CMIP5", "Paleo"], "range": ["#F2A08E", "#93E5F2"]}, "legend": null}
      }
    },
    {
      "data": {"name": "ranges"},
      "mark": {"type": "point", "shape": "triangle-up", "filled": true, "size": 1156, "opacity": 1},
      "encoding": {
        "x": {"field": "year", "type": "quantitative", "axis": null},
        "y": {"field": "top", "type": "quantitative", "axis": null},
        "color": {"field": "set", "type": "nominal", "legend": null}
      }
    },
    {
      "data": {"name": "ranges"},
      "mark": {"type": "point", "shape": "triangle-down", "filled": true, "size": 1156, "opacity": 1},
      "encoding": {
        "x": {"field": "year", "type": "quantitative", "axis": null},
        "y": {"field": "bottom", "type": "quantitative", "axis": null},
        "color": {"field": "set", "type": "nominal", "legend": null}
      }
    },
    {
      "data": {"name": "heading_plain"},
      "mark": {"type": "text", "align": "left", "baseline": "alphabetic", "font": "Liberation Sans", "fontSize": 47, "color": "#000000"},
      "encoding": {
        "x": {"field": "year", "type": "quantitative", "axis": null},
        "y": {"field": "t", "type": "quantitative", "axis": null},
        "text": {"field": "label"}
      }
    },
    {
      "data": {"name": "heading_accent"},
      "mark": {"type": "text", "align": "left", "baseline": "alphabetic", "font": "Liberation Sans", "fontSize": 47, "color": "#FF6600"},
      "encoding": {
        "x": {"field": "year", "type": "quantitative", "axis": null},
        "y": {"field": "t", "type": "quantitative", "axis": null},
        "text": {"field": "label"}
      }
    },
    {
      "data": {"name": "heading_centered"},
      "mark": {"type": "text", "align": "center", "baseline": "alphabetic", "font": "Liberation Sans", "fontSize": 47, "color": "#000000"},
      "encoding": {
        "x": {"field": "year", "type": "quantitative", "axis": null},
        "y": {"field": "t", "type": "quantitative", "axis": null},
        "text": {"field": "label"}
      }
    },
    {
      "data": {"name": "big_notes"},
      "mark": {"type": "text", "align": "left", "baseline": "alphabetic", "font": "Liberation Sans", "fontSize": 70, "color": "#000000"},
      "encoding": {
        "x": {"field": "year", "type": "quantitative", "axis": null},
        "y": {"field": "t", "type": "quantitative", "axis": null},
        "text": {"field": "label"}
      }
    },
    {
      "data": {"name": "side_labels"},
      "mark": {"type": "text", "align": "center", "baseline": "middle", "angle": 270, "font": "Liberation Sans", "fontSize": 38, "color": "#222222"},
      "encoding": {
        "x": {"field": "year", "type": "quantitative", "axis": null},
        "y": {"field": "t", "type": "quantitative", "axis": null},
        "text": {"field": "label"}
      }
    }
  ]
}
